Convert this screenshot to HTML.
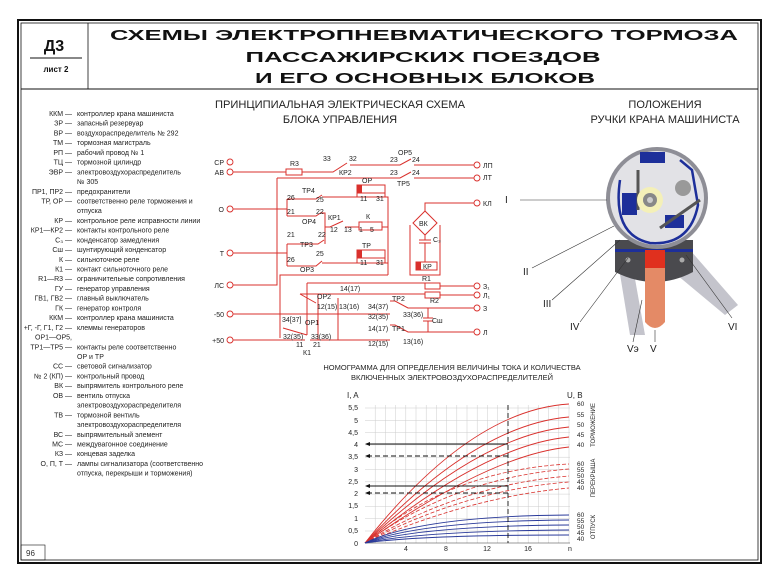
<!DOCTYPE html>
<html><head><meta charset="utf-8"><style>
html,body{margin:0;padding:0;background:#fff;}
svg{display:block;font-family:"Liberation Sans","DejaVu Sans",sans-serif;}
.lg{font-size:7px;fill:#222;}
.c{font-size:7px;fill:#222;}
.w{stroke:#d9302c;stroke-width:1;fill:none;}
</style></head><body>
<svg width="780" height="580" viewBox="0 0 780 580" xmlns="http://www.w3.org/2000/svg">
<rect x="18" y="20" width="743" height="543" fill="none" stroke="#111" stroke-width="2"/>
<rect x="21" y="23" width="737" height="537" fill="none" stroke="#111" stroke-width="0.8"/>
<line x1="21" y1="89" x2="758" y2="89" stroke="#111" stroke-width="1"/>
<line x1="88" y1="23" x2="88" y2="89" stroke="#111" stroke-width="0.8"/>
<text x="54" y="51" text-anchor="middle" font-size="16" font-weight="bold" fill="#111">Д3</text>
<line x1="30" y1="58" x2="82" y2="58" stroke="#111" stroke-width="1"/>
<text x="56" y="72" text-anchor="middle" font-size="8" font-weight="bold" fill="#111">лист 2</text>
<g font-size="14.5" font-weight="bold" fill="#111" text-anchor="middle">
<text x="424" y="40" textLength="628" lengthAdjust="spacingAndGlyphs">СХЕМЫ ЭЛЕКТРОПНЕВМАТИЧЕСКОГО ТОРМОЗА</text>
<text x="423" y="62" textLength="355" lengthAdjust="spacingAndGlyphs">ПАССАЖИРСКИХ ПОЕЗДОВ</text>
<text x="425" y="83" textLength="340" lengthAdjust="spacingAndGlyphs">И ЕГО ОСНОВНЫХ БЛОКОВ</text>
</g>
<rect x="21" y="545" width="24" height="15" fill="none" stroke="#111" stroke-width="0.6"/>
<text x="26" y="556" font-size="8" fill="#333">96</text>

<g class="lg">
<g text-anchor="end">
<text x="72" y="116">ККМ —</text><text x="72" y="125.7">ЗР —</text><text x="72" y="135.4">ВР —</text><text x="72" y="145.2">ТМ —</text><text x="72" y="154.9">РП —</text><text x="72" y="164.6">ТЦ —</text><text x="72" y="174.3">ЭВР —</text>
<text x="72" y="193.8">ПР1, ПР2 —</text><text x="72" y="203.5">ТР, ОР —</text>
<text x="72" y="222.9">КР —</text><text x="72" y="232.6">КР1—КР2 —</text><text x="72" y="242.4">С₃ —</text><text x="72" y="252.1">Сш —</text><text x="72" y="261.8">К —</text><text x="72" y="271.5">К1 —</text><text x="72" y="281.2">R1—R3 —</text><text x="72" y="291">ГУ —</text><text x="72" y="300.7">ГВ1, ГВ2 —</text><text x="72" y="310.4">ГК —</text><text x="72" y="320.1">ККМ —</text><text x="72" y="329.8">+Г, -Г, Г1, Г2 —</text><text x="72" y="339.6">ОР1—ОР5,</text><text x="72" y="349.3">ТР1—ТР5 —</text>
<text x="72" y="368.7">СС —</text><text x="72" y="378.4">№ 2 (КП) —</text><text x="72" y="388.2">ВК —</text><text x="72" y="397.9">ОВ —</text><text x="72" y="417.3">ТВ —</text><text x="72" y="436.8">ВС —</text><text x="72" y="446.5">МС —</text><text x="72" y="456.2">КЗ —</text><text x="72" y="465.9">О, П, Т —</text>
</g>
<text x="77" y="116">контроллер крана машиниста</text><text x="77" y="125.7">запасный резервуар</text><text x="77" y="135.4">воздухораспределитель № 292</text><text x="77" y="145.2">тормозная магистраль</text><text x="77" y="154.9">рабочий провод № 1</text><text x="77" y="164.6">тормозной цилиндр</text><text x="77" y="174.3">электровоздухораспределитель</text><text x="77" y="184">№ 305</text><text x="77" y="193.8">предохранители</text><text x="77" y="203.5">соответственно реле торможения и</text><text x="77" y="213.2">отпуска</text><text x="77" y="222.9">контрольное реле исправности линии</text><text x="77" y="232.6">контакты контрольного реле</text><text x="77" y="242.4">конденсатор замедления</text><text x="77" y="252.1">шунтирующий конденсатор</text><text x="77" y="261.8">сильноточное реле</text><text x="77" y="271.5">контакт сильноточного реле</text><text x="77" y="281.2">ограничительные сопротивления</text><text x="77" y="291">генератор управления</text><text x="77" y="300.7">главный выключатель</text><text x="77" y="310.4">генератор контроля</text><text x="77" y="320.1">контроллер крана машиниста</text><text x="77" y="329.8">клеммы генераторов</text><text x="77" y="349.3">контакты реле соответственно</text><text x="77" y="359">ОР и ТР</text><text x="77" y="368.7">световой сигнализатор</text><text x="77" y="378.4">контрольный провод</text><text x="77" y="388.2">выпрямитель контрольного реле</text><text x="77" y="397.9">вентиль отпуска</text><text x="77" y="407.6">электровоздухораспределителя</text><text x="77" y="417.3">тормозной вентиль</text><text x="77" y="427">электровоздухораспределителя</text><text x="77" y="436.8">выпрямительный элемент</text><text x="77" y="446.5">междувагонное соединение</text><text x="77" y="456.2">концевая заделка</text><text x="77" y="465.9">лампы сигнализатора (соответственно</text><text x="77" y="475.6">отпуска, перекрыши и торможения)</text>
</g>

<g font-size="11" fill="#222" text-anchor="middle">
<text x="340" y="108" textLength="250" lengthAdjust="spacingAndGlyphs">ПРИНЦИПИАЛЬНАЯ ЭЛЕКТРИЧЕСКАЯ СХЕМА</text>
<text x="340" y="123">БЛОКА УПРАВЛЕНИЯ</text>
<text x="665" y="108">ПОЛОЖЕНИЯ</text>
<text x="665" y="123">РУЧКИ КРАНА МАШИНИСТА</text>
</g>

<g class="c">
<g text-anchor="end">
<text x="224" y="165">СР</text><text x="224" y="175">АВ</text><text x="224" y="212">О</text><text x="224" y="256">Т</text><text x="224" y="288">ЛС</text><text x="224" y="317">-50</text><text x="224" y="343">+50</text>
</g>
<text x="483" y="168">ЛП</text><text x="483" y="180">ЛТ</text><text x="483" y="206">КЛ</text><text x="483" y="289">З₁</text><text x="483" y="298">Л₁</text><text x="483" y="311">З</text><text x="483" y="335">Л</text>
</g>
<g fill="#fff" stroke="#d9302c" stroke-width="0.9">
<circle cx="230" cy="162" r="3"/><circle cx="230" cy="172" r="3"/><circle cx="230" cy="209" r="3"/><circle cx="230" cy="253" r="3"/><circle cx="230" cy="285" r="3"/><circle cx="230" cy="314" r="3"/><circle cx="230" cy="340" r="3"/>
<circle cx="477" cy="165" r="3"/><circle cx="477" cy="178" r="3"/><circle cx="477" cy="203" r="3"/><circle cx="477" cy="286" r="3"/><circle cx="477" cy="295" r="3"/><circle cx="477" cy="308" r="3"/><circle cx="477" cy="332" r="3"/>
</g>
<g class="w">
<path d="M233,172H286M302,172H333L347,163M350,165H400L411,159M414,165H474"/>
<rect x="286" y="169" width="16" height="6"/>
<path d="M277,178H400L411,172M414,178H474M277,178V285H233"/>
<path d="M233,209H287M287,199V216M287,199H316L322,195M322,197H388V275M287,216H316L322,212M322,213H325V240"/>
<path d="M325,227H330L343,221M345,227H359M382,227H388"/>
<path d="M233,253H287M287,244V266M287,244H318L324,240M325,240V244M287,266H316L322,261M322,263H388"/>
<path d="M357,197V193M385,197V193M357,263V258M385,263V258"/>
<path d="M388,275H280V338"/>
<path d="M474,203H425V211M410,225V275H440V225"/>
<path d="M425,211L413,223L425,235L437,223Z"/>
<path d="M425,235V240M419,240H431M419,243H431M425,243V262"/>
<path d="M307,283H425M440,286H474M300,294H425M440,295H474"/>
<path d="M233,314H390M318,294V340M338,298V340M300,294L316,303M390,301H395L408,308H474"/>
<path d="M428,308V318M423,318H433M423,321H433M428,321V332"/>
<path d="M233,340H305M310,340H390M283,328L307,335M307,283V335M390,325H395L408,332H474"/>
</g>
<rect x="425" y="283" width="15" height="6" fill="#fff" stroke="#d9302c"/>
<rect x="425" y="292" width="15" height="6" fill="#fff" stroke="#d9302c"/>
<g stroke="#d9302c" fill="#fff"><rect x="357" y="185" width="28" height="8"/><rect x="359" y="222" width="23" height="8"/><rect x="357" y="250" width="28" height="8"/><rect x="416" y="262" width="21" height="8"/></g>
<g fill="#d9302c"><rect x="357" y="185" width="5" height="8"/><rect x="357" y="250" width="5" height="8"/><rect x="416" y="262" width="5" height="8"/></g>
<g class="c">
<text x="290" y="166">R3</text><text x="323" y="161">33</text><text x="349" y="161">32</text><text x="339" y="175">КР2</text>
<text x="398" y="155">ОР5</text><text x="390" y="162">23</text><text x="412" y="162">24</text><text x="390" y="175">23</text><text x="412" y="175">24</text><text x="397" y="186">ТР5</text>
<text x="362" y="183">ОР</text><text x="360" y="201">11</text><text x="376" y="201">31</text>
<text x="302" y="193">ТР4</text><text x="287" y="200">26</text><text x="316" y="202">25</text><text x="287" y="214">21</text><text x="316" y="214">22</text><text x="302" y="224">ОР4</text>
<text x="328" y="220">КР1</text><text x="330" y="232">12</text><text x="344" y="232">13</text><text x="366" y="219">К</text><text x="359" y="232">1</text><text x="370" y="232">5</text>
<text x="287" y="237">21</text><text x="318" y="237">22</text><text x="300" y="247">ТР3</text>
<text x="287" y="262">26</text><text x="316" y="256">25</text><text x="300" y="272">ОР3</text>
<text x="362" y="248">ТР</text><text x="360" y="265">11</text><text x="376" y="265">31</text>
<text x="419" y="226">ВК</text><text x="433" y="242">С₃</text><text x="423" y="269">КР</text>
<text x="422" y="281">R1</text><text x="430" y="303">R2</text><text x="340" y="291">14(17)</text><text x="317" y="299">ОР2</text>
<text x="317" y="309">12(15)</text><text x="339" y="309">13(16)</text><text x="368" y="309">34(37)</text><text x="368" y="319">32(35)</text><text x="392" y="301">ТР2</text><text x="403" y="317">33(36)</text><text x="432" y="323">Сш</text>
<text x="282" y="322">34[37]</text><text x="305" y="325">ОР1</text><text x="283" y="339">32(35)</text><text x="311" y="339">33(36)</text><text x="368" y="331">14(17)</text><text x="392" y="331">ТР1</text><text x="403" y="344">13(16)</text><text x="368" y="346">12(15)</text>
<text x="296" y="347">11</text><text x="313" y="347">21</text><text x="303" y="355">К1</text>
</g>

<g>
<path d="M690,250 L738,305 L725,315 L665,265Z" fill="#c4c4cc"/>
<path d="M632,262 L645,335 L630,335 L618,262Z" fill="#c4c4cc"/>
<path d="M615,240 H693 V272 Q655,292 615,272Z" fill="#4a4a4e"/>
<rect x="615" y="249" width="78" height="3" fill="#1d2f9a"/>
<circle cx="657" cy="198" r="51" fill="#8e8e96"/>
<circle cx="657" cy="198" r="47" fill="#e2e2e6"/>
<path d="M620,180 Q612,235 650,243 Q690,246 698,205 L692,170 L680,160" fill="none" stroke="#1d2f9a" stroke-width="2.5"/>
<path d="M640,152 H665 V163 H640Z" fill="#1d2f9a"/>
<path d="M622,193 H637 V215 H622Z" fill="#1d2f9a"/>
<path d="M665,215 H684 V228 H665Z" fill="#1d2f9a"/>
<path d="M660,228 L700,200" stroke="#555" stroke-width="3"/>
<path d="M638,170 V210" stroke="#555" stroke-width="3"/>
<circle cx="650" cy="200" r="13" fill="#f4f0b8"/>
<circle cx="650" cy="200" r="7" fill="#888"/>
<circle cx="650" cy="200" r="3" fill="#ccc"/>
<circle cx="683" cy="188" r="8" fill="#999"/>
<path d="M645,250 H665 V322 Q655,334 645,322Z" fill="#e48a66"/>
<rect x="645" y="250" width="20" height="18" fill="#e0301e"/>
<circle cx="628" cy="260" r="2.5" fill="#aaa"/><circle cx="682" cy="260" r="2.5" fill="#aaa"/>
</g>
<g stroke="#333" stroke-width="0.6" fill="none">
<path d="M520,200H607M532,268L614,226M552,300L620,240M580,322L628,258M633,342L642,300M655,342V330M732,318L686,255"/>
</g>
<g font-size="10" fill="#222">
<text x="505" y="203">I</text><text x="523" y="275">II</text><text x="543" y="307">III</text><text x="570" y="330">IV</text><text x="627" y="352">Vэ</text><text x="650" y="352">V</text><text x="728" y="330">VI</text>
</g>

<g font-size="7.5" fill="#222" text-anchor="middle">
<text x="452" y="370">НОМОГРАММА ДЛЯ ОПРЕДЕЛЕНИЯ ВЕЛИЧИНЫ ТОКА И КОЛИЧЕСТВА</text>
<text x="452" y="380">ВКЛЮЧЕННЫХ ЭЛЕКТРОВОЗДУХОРАСПРЕДЕЛИТЕЛЕЙ</text>
</g>
<g stroke="#ccc" stroke-width="0.5">
<path d="M365,408H570M365,420.3H570M365,432.6H570M365,444.9H570M365,457.2H570M365,469.5H570M365,481.8H570M365,494.1H570M365,506.4H570M365,518.7H570M365,531H570"/>
<path d="M375.2,405V543M385.4,405V543M395.6,405V543M405.8,405V543M416,405V543M426.2,405V543M436.4,405V543M446.6,405V543M456.8,405V543M467,405V543M477.2,405V543M487.4,405V543M497.6,405V543M507.8,405V543M518,405V543M528.2,405V543M538.4,405V543M548.6,405V543M558.8,405V543M569,405V543"/>
</g>
<line x1="365" y1="543" x2="570" y2="543" stroke="#333" stroke-width="0.6"/>
<g fill="none" stroke="#d9302c" stroke-width="0.9">
<path d="M365,543Q470,410 569,404"/><path d="M365,543Q475,425 569,417"/><path d="M365,543Q480,435 569,427"/><path d="M365,543Q485,445 569,437"/><path d="M365,543Q490,455 569,447"/>
</g>
<g fill="none" stroke="#d9302c" stroke-width="0.8" stroke-dasharray="4,2">
<path d="M365,543Q450,470 569,464"/><path d="M365,543Q455,478 569,469"/><path d="M365,543Q460,485 569,476"/><path d="M365,543Q465,490 569,482"/><path d="M365,543Q470,497 569,488"/>
</g>
<g fill="none" stroke="#2a3a9a" stroke-width="0.9">
<path d="M365,543Q420,516 569,515"/><path d="M365,543Q420,521 569,520"/><path d="M365,543Q420,526 569,525"/><path d="M365,543Q420,531 569,530"/><path d="M365,543Q420,535 569,535"/>
</g>
<g stroke="#111" stroke-width="0.9" fill="none">
<path d="M508,444H368"/><path d="M508,456H368" stroke-dasharray="5,3"/><path d="M508,486H368"/><path d="M508,493H368" stroke-dasharray="5,3"/><path d="M508,405V543" stroke-dasharray="5,3"/>
</g>
<g fill="#111"><path d="M365,444l5,-2v4z"/><path d="M365,456l5,-2v4z"/><path d="M365,486l5,-2v4z"/><path d="M365,493l5,-2v4z"/></g>
<g font-size="7" fill="#222" text-anchor="end">
<text x="358" y="410">5,5</text><text x="358" y="423">5</text><text x="358" y="435">4,5</text><text x="358" y="447">4</text><text x="358" y="459">3,5</text><text x="358" y="472">3</text><text x="358" y="484">2,5</text><text x="358" y="496">2</text><text x="358" y="508">1,5</text><text x="358" y="521">1</text><text x="358" y="533">0,5</text><text x="358" y="546">0</text>
</g>
<g font-size="7" fill="#222" text-anchor="middle"><text x="406" y="551">4</text><text x="446" y="551">8</text><text x="487" y="551">12</text><text x="528" y="551">16</text><text x="570" y="551">n</text></g>
<g font-size="8" fill="#222"><text x="347" y="398">I, A</text><text x="567" y="398">U, B</text></g>
<g font-size="6.5" fill="#222">
<text x="577" y="406">60</text><text x="577" y="417">55</text><text x="577" y="427">50</text><text x="577" y="437">45</text><text x="577" y="447">40</text>
<text x="577" y="466">60</text><text x="577" y="472">55</text><text x="577" y="478">50</text><text x="577" y="484">45</text><text x="577" y="490">40</text>
<text x="577" y="517">60</text><text x="577" y="523">55</text><text x="577" y="529">50</text><text x="577" y="535">45</text><text x="577" y="541">40</text>
</g>
<g font-size="6" fill="#222" text-anchor="middle">
<text transform="translate(595,425) rotate(-90)">ТОРМОЖЕНИЕ</text>
<text transform="translate(595,478) rotate(-90)">ПЕРЕКРЫША</text>
<text transform="translate(595,527) rotate(-90)">ОТПУСК</text>
</g>
</svg>
</body></html>
